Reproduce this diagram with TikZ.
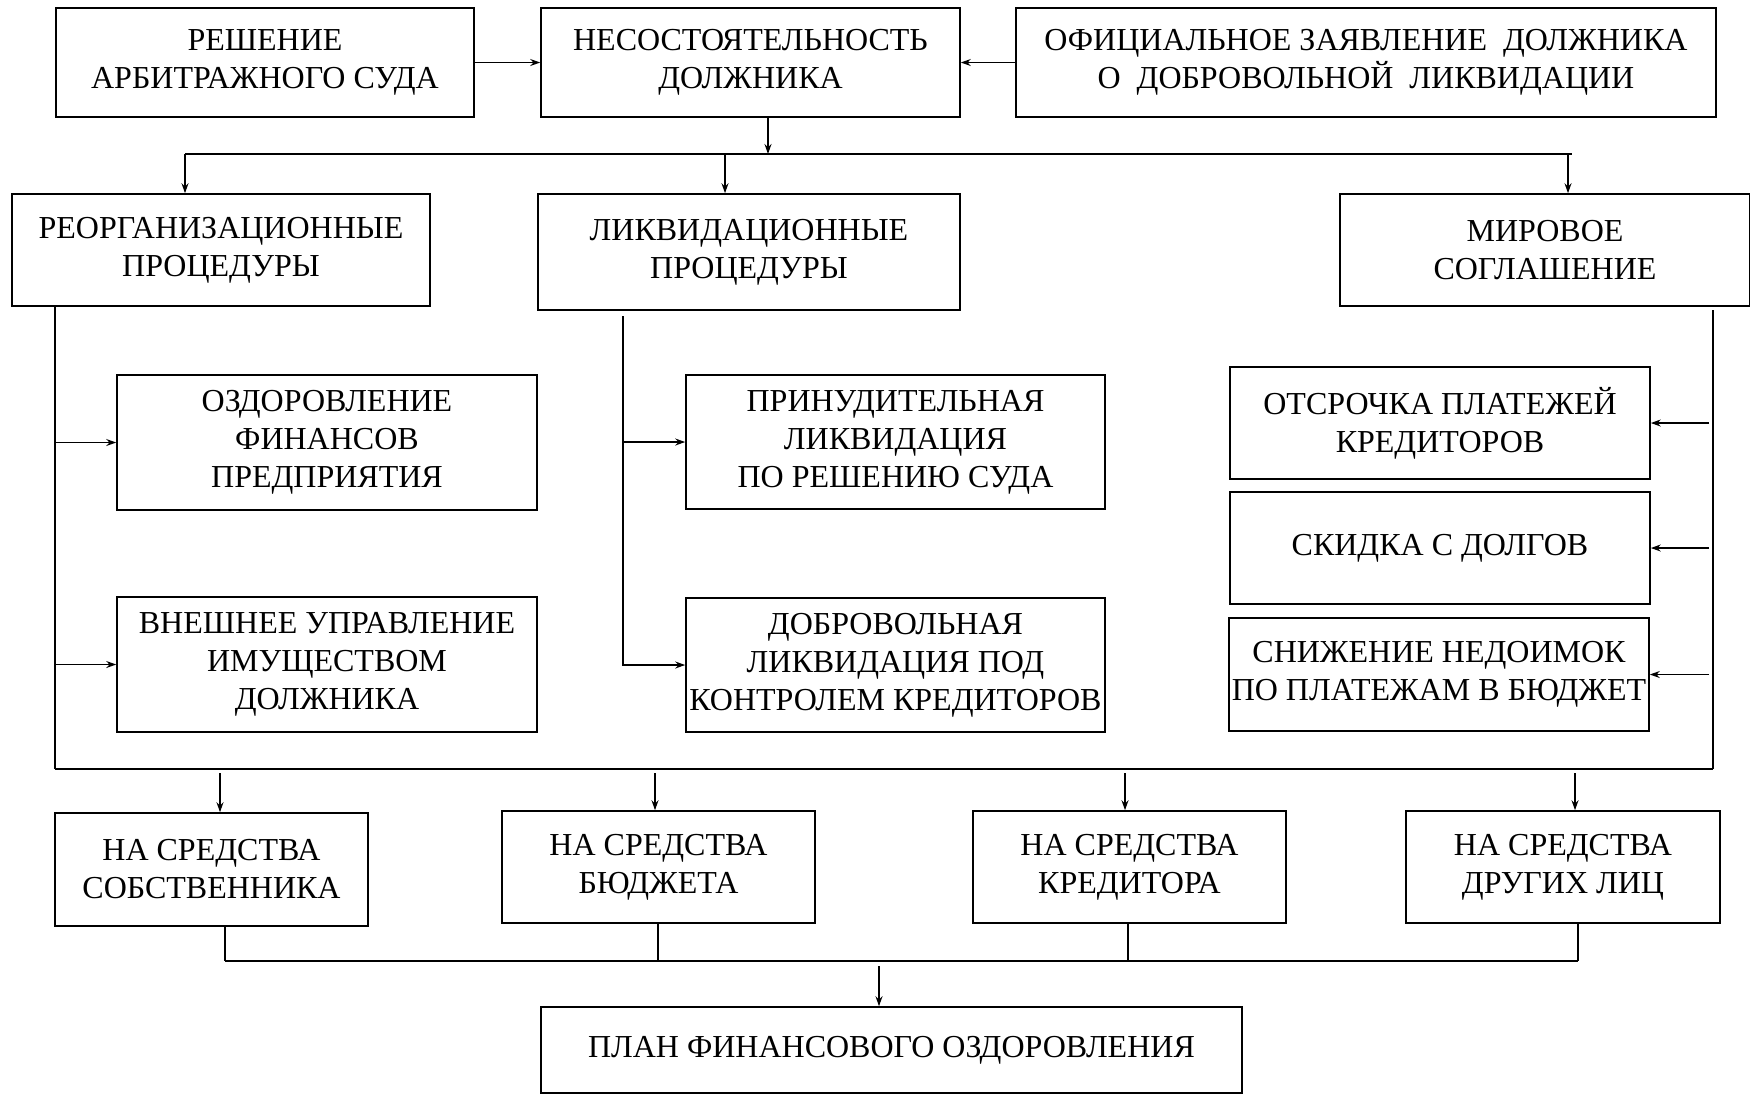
\documentclass[tikz,border=0pt]{standalone}
\usepackage{fontspec}
\setmainfont{Liberation Serif}
\usetikzlibrary{arrows.meta}

\begin{document}
\begin{tikzpicture}[ x=0.5pt , y=-0.5pt , >={Stealth[length=5pt,width=3.5pt]} , line width=0.7pt ,
  blk/.style={ draw , line width=0.8pt , align=center , inner sep=0pt , font=\fontsize{16}{19}\selectfont } ,
  sz/.style 2 args={ minimum width=#1pt , minimum height=#2pt } ,
  bus/.style={ line width=1pt } ]
\useasboundingbox (0,0) rectangle (1750,1094);

% top row
\node [ blk , sz={209}{54.5} ] (res) at (265,62.5) {РЕШЕНИЕ\\АРБИТРАЖНОГО СУДА};
\node [ blk , sz={209.5}{54.5} ] (nes) at (750.5,62.5) {НЕСОСТОЯТЕЛЬНОСТЬ\\ДОЛЖНИКА};
\node [ blk , sz={350}{54.5} ] (ofic) at (1366,62.5) {ОФИЦИАЛЬНОЕ ЗАЯВЛЕНИЕ\ \ ДОЛЖНИКА\\О\ \ ДОБРОВОЛЬНОЙ\ \ ЛИКВИДАЦИИ};

% procedures
\node [ blk , sz={209}{56} ] (reorg) at (221,250) {РЕОРГАНИЗАЦИОННЫЕ\\ПРОЦЕДУРЫ};
\node [ blk , sz={211}{58} ] (likv) at (749,252) {ЛИКВИДАЦИОННЫЕ\\ПРОЦЕДУРЫ};
\node [ blk , sz={205}{56} ] (mir) at (1545,250) {МИРОВОЕ\\СОГЛАШЕНИЕ};

\node [ blk , sz={210}{67.5} ] (ozd) at (327,442.5) {ОЗДОРОВЛЕНИЕ\\ФИНАНСОВ\\ПРЕДПРИЯТИЯ};
\node [ blk , sz={210}{67.5} ] (vnesh) at (327,664.5) {ВНЕШНЕЕ УПРАВЛЕНИЕ\\ИМУЩЕСТВОМ\\ДОЛЖНИКА};
\node [ blk , sz={209.5}{67} ] (prin) at (895.5,442) {ПРИНУДИТЕЛЬНАЯ\\ЛИКВИДАЦИЯ\\ПО РЕШЕНИЮ СУДА};
\node [ blk , sz={209.5}{67} ] (dobr) at (895.5,665) {ДОБРОВОЛЬНАЯ\\ЛИКВИДАЦИЯ ПОД\\КОНТРОЛЕМ КРЕДИТОРОВ};
\node [ blk , sz={210}{56} ] (otsr) at (1440,423) {ОТСРОЧКА ПЛАТЕЖЕЙ\\КРЕДИТОРОВ};
\node [ blk , sz={210}{56} ] (skid) at (1440,548) {СКИДКА С ДОЛГОВ};
\node [ blk , sz={210}{56.5} ] (sniz) at (1439,674.5) {СНИЖЕНИЕ НЕДОИМОК\\ПО ПЛАТЕЖАМ В БЮДЖЕТ};

% sources
\node [ blk , sz={156.5}{56.5} ] (sob) at (211.5,869.5) {НА СРЕДСТВА\\СОБСТВЕННИКА};
\node [ blk , sz={156.5}{56} ] (bud) at (658.5,867) {НА СРЕДСТВА\\БЮДЖЕТА};
\node [ blk , sz={156.5}{56} ] (kred) at (1129.5,867) {НА СРЕДСТВА\\КРЕДИТОРА};
\node [ blk , sz={157}{56} ] (drug) at (1563,867) {НА СРЕДСТВА\\ДРУГИХ ЛИЦ};
\node [ blk , sz={350.5}{43} ] (plan) at (891.5,1050) {ПЛАН ФИНАНСОВОГО ОЗДОРОВЛЕНИЯ};

\coordinate (tin) at (768,154);
\coordinate (t1) at (185,154);
\coordinate (t2) at (725,154);
\coordinate (t3) at (1568,154);
\coordinate (t4) at (1572,154);
\coordinate (l1) at (55,769);
\coordinate (m1) at (623,316);
\coordinate (r1) at (1713,310);
\coordinate (r2) at (1713,769);

\path [->] (res) edge (nes) (ofic) edge (nes);
\draw [->] (nes.south -| tin) -- (tin);
\draw [bus] (t1) -- (t4);
\draw [->] (t1) -- (t1 |- reorg.north);
\draw [->] (t2) -- (t2 |- likv.north);
\draw [->] (t3) -- (t3 |- mir.north);

\draw (reorg.south -| l1) -- (l1);
\draw [->] (ozd.west -| l1) -- (ozd.west);
\draw [->] (vnesh.west -| l1) -- (vnesh.west);
\draw [->] (m1) |- (dobr.west);
\draw [->] (prin.west -| m1) -- (prin.west);
\draw (r1) -- (r2);
\draw [->, shorten <=2pt] (otsr.east -| r1) -- (otsr.east);
\draw [->, shorten <=2pt] (skid.east -| r1) -- (skid.east);
\draw [->, shorten <=2pt] (sniz.east -| r1) -- (sniz.east);

\draw [bus] (l1) -- (r2);
\foreach \n/\x in {sob/220, bud/655, kred/1125, drug/1575}
  \draw [->] (\x,773) -- (\x,773 |- \n.north);
\foreach \n/\x in {sob/225, bud/658, kred/1128, drug/1578}
  \draw (\x,961 |- \n.south) -- (\x,961);
\draw [bus] (225,961) -- (1578,961);
\draw [->] (879,966) -- (879,966 |- plan.north);
\end{tikzpicture}
\end{document}
